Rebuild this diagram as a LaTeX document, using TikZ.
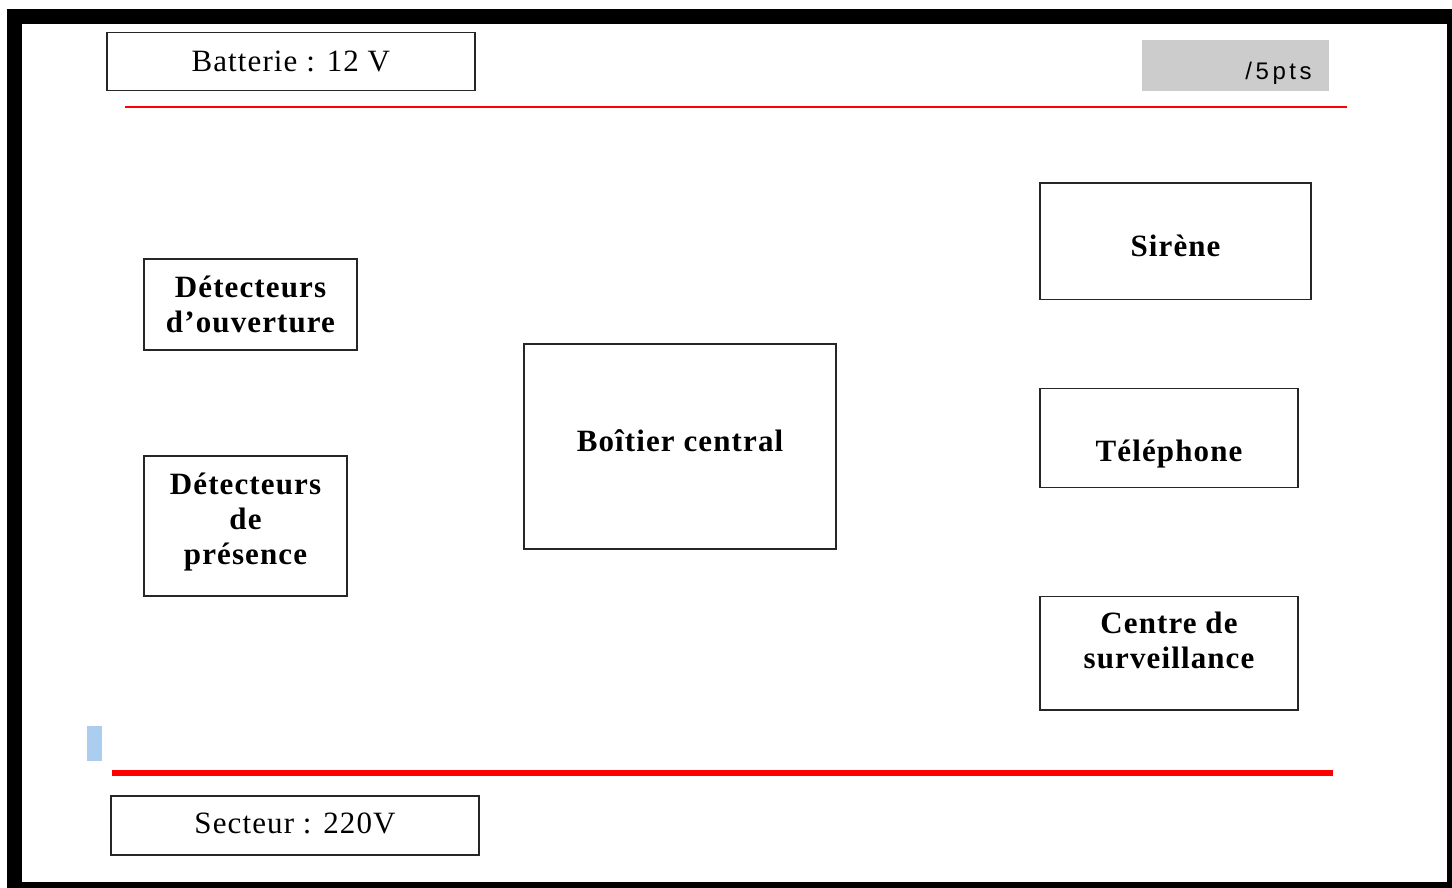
\documentclass[tikz,border=0pt]{standalone}
\usepackage{fontspec}
\setmainfont{Liberation Serif}[LetterSpace=3.6]
\newfontfamily\ptsfont{Liberation Sans}
\definecolor{framegray}{RGB}{204,204,204}
\definecolor{markblue}{RGB}{170,205,240}
\definecolor{linered}{RGB}{255,0,0}
\newcommand\rb[2]{\raisebox{#1}[0pt][0pt]{\begin{tabular}[t]{@{}c@{}}#2\end{tabular}}}
\tikzset{
  box/.style={draw=black!85, line width=1.4pt, rectangle, inner sep=0pt, fill=white},
  boldtxt/.style={font=\bfseries\fontsize{31}{35}\selectfont},
  regtxt/.style={font=\fontsize{31}{35}\selectfont},
  thinred/.style={draw=linered, line width=1.6pt},
  thickred/.style={draw=linered, line width=5.5pt},
}
\begin{document}
\begin{tikzpicture}[x=1pt,y=-1pt]
\useasboundingbox (0,0) rectangle (1452,888);
% frame
\fill[black] (7,9) rectangle (1452,888);
\fill[white] (22,24) rectangle (1446.5,882);
% supply boxes
\node[box, regtxt, minimum width=368, minimum height=58] (batt) at (290.8,61.8) {\rb{-9.9pt}{Batterie : 12 V}};
\node[box, regtxt, minimum width=368, minimum height=59] (sect) at (295,825.5) {\rb{-7.8pt}{Secteur : 220V}};
% score box
\node[fill=framegray, inner sep=0pt, minimum width=187.3, minimum height=50.7] (score) at (1235.4,65.3)
  {\raisebox{-14.7pt}[0pt][0pt]{\makebox[187.3pt][r]{\ptsfont\fontsize{24}{28}\selectfont /\kern3.6pt5\kern3.6pt p\kern3.6pt t\kern3.6pt s\hspace{17.3pt}}}};
% red lines
\coordinate (t1) at (125.3,107.2);
\coordinate (t2) at (1347,107.2);
\draw[thinred] (t1) -- (t2);
\coordinate (b1) at (112.3,772.8);
\coordinate (b2) at (1333.3,772.8);
\draw[thickred] (b1) -- (b2);
% blue marker
\fill[markblue] (86.7,726) rectangle (101.7,761);
% blocks
\node[box, boldtxt, minimum width=213, minimum height=91] (ouv) at (250.5,304.5) {\rb{7.5pt}{Détecteurs\\d’ouverture}};
\node[box, boldtxt, minimum width=203, minimum height=140] (pres) at (245.5,526) {\rb{31.5pt}{Détecteurs\\de\\présence}};
\node[box, boldtxt, minimum width=312, minimum height=205] (boit) at (680,446.5) {\rb{-5.2pt}{Boîtier central}};
\node[box, boldtxt, minimum width=271, minimum height=116] (sir) at (1175.5,241.2) {\rb{-15.5pt}{Sirène}};
\node[box, boldtxt, minimum width=258, minimum height=99] (tel) at (1169,437.8) {\rb{-23.9pt}{Téléphone}};
\node[box, boldtxt, minimum width=258, minimum height=113.3] (cen) at (1169,653.3) {\rb{20pt}{Centre de\\surveillance}};
\end{tikzpicture}
\end{document}
